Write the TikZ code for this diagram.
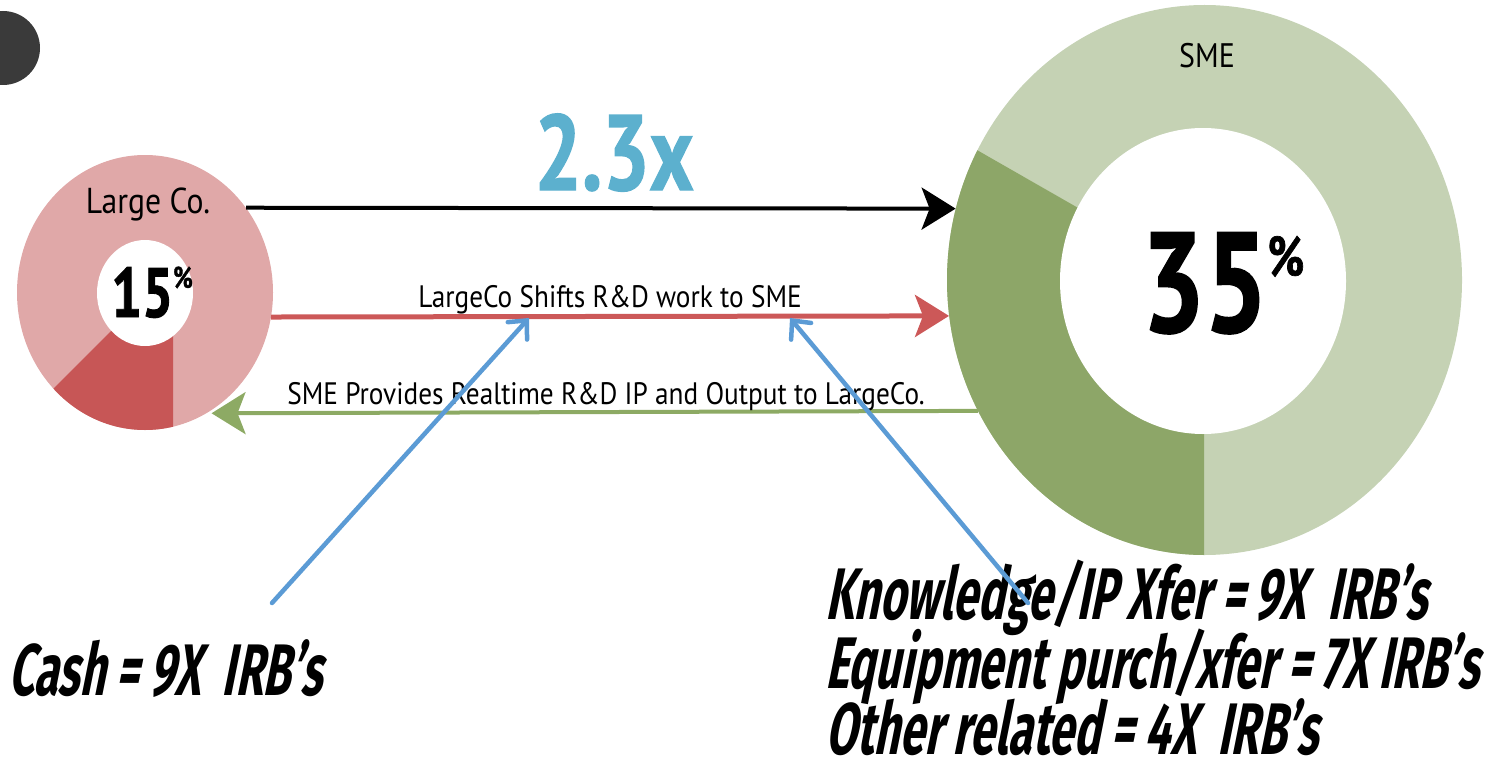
\documentclass[tikz,border=0pt]{standalone}
\usepackage{fontspec}
\setmainfont{PT Sans}
\newfontfamily\labelfont[FakeStretch=0.88]{PT Sans}
\newfontfamily\numfont[FakeStretch=0.78,FakeBold=1.2]{PT Sans}
\newfontfamily\irbfont[FakeStretch=0.615,FakeSlant=0.2]{Fira Sans}
\usetikzlibrary{arrows.meta,shapes.geometric,positioning}

\definecolor{lcpink}{RGB}{224,168,168}
\definecolor{lcred}{RGB}{199,86,86}
\definecolor{smelight}{RGB}{197,210,180}
\definecolor{smedark}{RGB}{141,166,104}
\definecolor{arrowred}{RGB}{204,88,88}
\definecolor{arrowgreen}{RGB}{141,170,100}
\definecolor{ratioblue}{RGB}{92,176,206}
\definecolor{ptrblue}{RGB}{91,155,213}
\definecolor{darkdot}{RGB}{58,58,58}

\begin{document}
\begin{tikzpicture}[x=1pt,y=-1pt,
  bigarrow/.style={line width=4pt,-{Stealth[length=34pt,width=42pt,inset=8pt]}},
  pointer/.style={line width=4.5pt,draw=ptrblue,line cap=round,
    -{Straight Barb[length=14pt,width=26pt,line cap=round]}},
  lbl/.style={font=\labelfont\fontsize{31}{31}\selectfont,inner sep=0pt,anchor=base},
  irb/.style={font=\irbfont\bfseries\fontsize{73}{73}\selectfont,inner sep=0pt,
    text height=52pt,text depth=0pt,anchor=base west}]
\useasboundingbox (0,0) rectangle (1498,773);

\fill[darkdot] (3,48) circle [radius=37pt];

% Large Co. ring
\node[ellipse,fill=lcpink,inner sep=0pt,minimum width=256pt,minimum height=275pt] (large) at (145,292.5) {};
\begin{scope}
\clip (145,292.5) ellipse [x radius=128pt,y radius=137.5pt];
\fill[lcred] (145,297) -- (173,297) -- (173,440) -- (2,440) -- cycle;
\end{scope}
\fill[white] (145,293) ellipse [x radius=48pt,y radius=53pt];

% SME ring
\node[ellipse,fill=smelight,inner sep=0pt,minimum width=515pt,minimum height=550pt] (sme) at (1204.5,280) {};
\begin{scope}
\clip (1204.5,280) ellipse [x radius=257.5pt,y radius=275pt];
\fill[smedark] (1204,280) -- (1204,600) -- (900,600) -- (900,106) -- cycle;
\end{scope}
\fill[white] (1203,281) ellipse [x radius=143pt,y radius=153pt];

\node[lbl,font=\labelfont\fontsize{36}{36}\selectfont] (largename) at (148,213) {Large Co.};
\node[lbl,font=\labelfont\fontsize{34}{34}\selectfont] (smename) at (1207,68) {SME};
\node[lbl,font=\numfont\bfseries\fontsize{70}{70}\selectfont] (largepct) at (152,317)
  {15\raisebox{29pt}{\fontsize{30}{30}\selectfont\%}};
\node[lbl,font=\numfont\bfseries\fontsize{142}{142}\selectfont] (smepct) at (1223,332)
  {35\raisebox{56pt}{\fontsize{56}{56}\selectfont\%}};
\node[lbl,font=\numfont\bfseries\fontsize{107}{107}\selectfont,text=ratioblue] (ratio) at (614,190) {2.3x};

\draw[bigarrow] (large.40) -- (sme.164);
\draw[bigarrow,draw=arrowred,line width=5pt] (large.-11) -- (sme.188);
\draw[bigarrow,draw=arrowgreen,shorten >=5pt] (sme.210) -- (large.-63);

\node[lbl] (shift) at (610,307) {LargeCo Shifts R\&D work to SME};
\node[lbl] (provide) at (606,404) {SME Provides Realtime R\&D IP and Output to LargeCo.};

\node[irb] (cash) at (8,695) {Cash = 9X\ \ IRB’s};
\node[irb] (knowledge) at (825,619) {Knowledge/IP Xfer = 9X\ \ IRB’s};
\node[irb] (equipment) at (825,688) {Equipment purch/xfer = 7X IRB’s};
\node[irb] (other) at (825,754) {Other related = 4X\ \ IRB’s};

\coordinate (cashfoot) at (272,603);
\coordinate (knowfoot) at (1028,603);
\coordinate (shifttipA) at (529,318);
\coordinate (shifttipB) at (790,318);
\draw[pointer] (cashfoot) -- (shifttipA);
\draw[pointer] (knowfoot) -- (shifttipB);
\end{tikzpicture}
\end{document}
